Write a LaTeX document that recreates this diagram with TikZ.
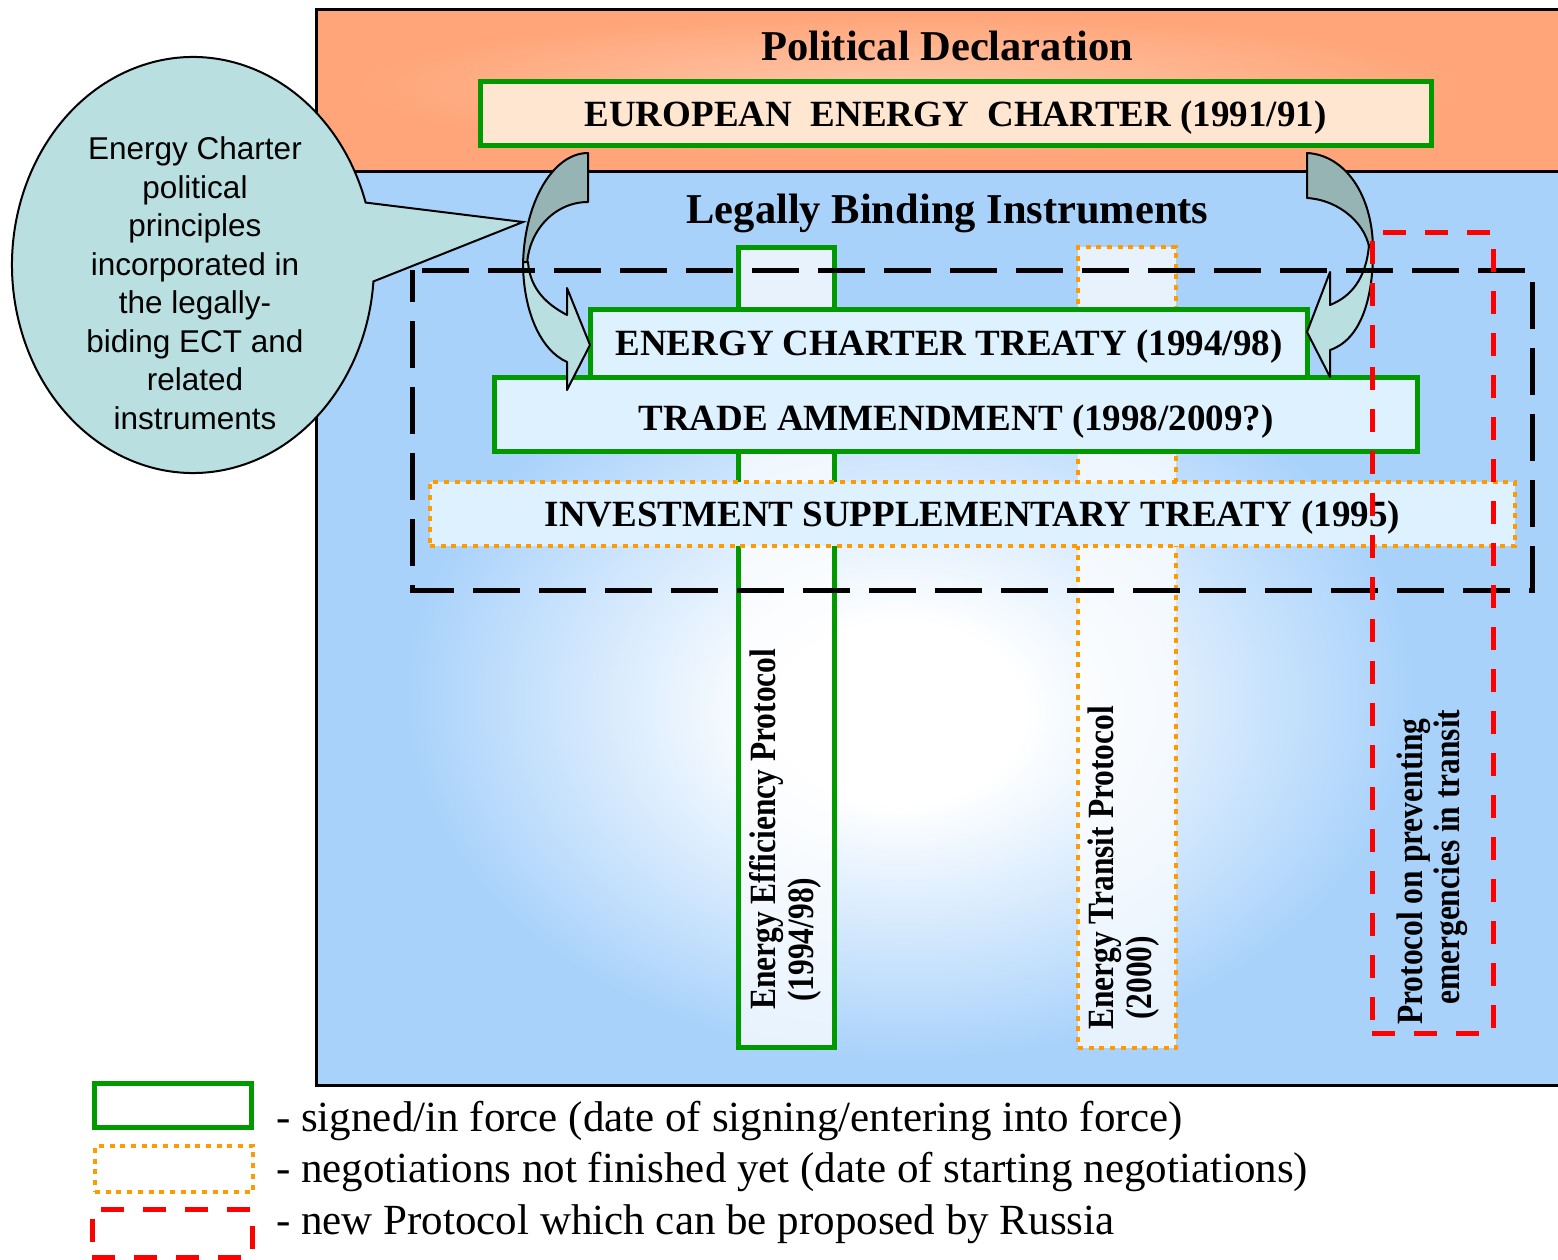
\documentclass[tikz,border=0pt]{standalone}
\usepackage{fontspec}
\setmainfont{Liberation Serif}
\newfontfamily\arialf{Liberation Sans}
\newfontfamily\vserif[FakeStretch=0.85]{Liberation Serif}
\usetikzlibrary{shapes.callouts}
\definecolor{bgblue}{HTML}{A9D2FB}
\definecolor{bgorange}{HTML}{FFA579}
\definecolor{orlight}{HTML}{FFC6A8}
\definecolor{gboxc}{HTML}{009900}
\definecolor{dotor}{HTML}{FF9A00}
\definecolor{boxfill}{HTML}{DDF1FE}
\definecolor{eecfill}{HTML}{FFE6D0}
\definecolor{callfill}{HTML}{B9DFE0}
\definecolor{arrdark}{HTML}{97B4B4}
\definecolor{arrlight}{HTML}{B9DFE0}
\pgfdeclareradialshading{blueshade}{\pgfpoint{-2bp}{-5bp}}{color(0bp)=(white); color(5bp)=(white); color(20bp)=(bgblue); color(70bp)=(bgblue)}
\pgfdeclareradialshading{orangeshade}{\pgfpoint{-2bp}{2bp}}{color(0bp)=(orlight); color(22bp)=(bgorange); color(70bp)=(bgorange)}
\begin{document}
\begin{tikzpicture}[x=1pt,y=-1pt,
  greenbox/.style={draw=gboxc, line width=5pt, fill=boxfill},
  dotbox/.style={draw=dotor, line width=4.5pt, dash pattern=on 5pt off 5.7pt, fill=boxfill},
  reddash/.style={draw=red, line width=5pt, dash pattern=on 23pt off 19pt},
  blackdash/.style={draw=black, line width=5pt, dash pattern=on 47pt off 19pt, dash phase=56pt},
  boxtext/.style={font=\fontsize{37}{40}\selectfont\bfseries, inner sep=0, text height=24.5pt, text depth=0pt},
  vtext/.style={font=\vserif\bfseries\fontsize{37}{38}\selectfont, rotate=90, anchor=west, inner sep=0},
  arrowpart/.style={draw=black, line width=2pt, line join=round},
  legtext/.style={font=\fontsize{43}{46}\selectfont, anchor=west, inner sep=0}]
\clip (0,0) rectangle (1558,1260);
% backgrounds
\shade[shading=orangeshade] (316,10) rectangle (1575,172);
\shade[shading=blueshade] (316,172) rectangle (1575,1085);
\draw[line width=3pt] (1575,10) -- (316,10) -- (316,1085) -- (1575,1085);
\draw[line width=3pt] (316,172) -- (1575,172);
% vertical protocol boxes
\node[greenbox, fill=white, fill opacity=0.72, minimum width=96, minimum height=800] (eep) at (786.5,647.5) {};
\node[dotbox, fill=white, fill opacity=0.72, minimum width=98, minimum height=801] (etp) at (1127,647.5) {};
% horizontal boxes
\node[greenbox, fill=eecfill, minimum width=951, minimum height=64, boxtext] (eec) at (955.5,114) {EUROPEAN\ \ ENERGY\ \ CHARTER (1991/91)};
\node[greenbox, minimum width=717, minimum height=67.5, boxtext] (ect) at (949,343.25) {ENERGY CHARTER TREATY (1994/98)};
\node[greenbox, minimum width=923, minimum height=74.5, boxtext, text height=33pt] (trade) at (956,414.25) {TRADE AMMENDMENT (1998/2009?)};
\node[dotbox, minimum width=1085, minimum height=64, boxtext] (ist) at (972.5,514) {INVESTMENT SUPPLEMENTARY TREATY (1995)};
% callout
\node[ellipse callout, draw=black, line width=2pt, fill=callfill, minimum width=362, minimum height=416, inner sep=0, callout absolute pointer={(523,222)}, callout pointer arc=22] (call) at (193,265) {};
\node[font=\arialf\fontsize{31.5}{38.5}\selectfont, align=center, inner sep=0] (calltxt) at (195,283) {Energy Charter\\political\\principles\\incorporated in\\the legally-\\biding ECT and\\related\\instruments};
% curved arrows
\draw[arrowpart, fill=arrdark] (588,153) .. controls (552,153) and (523,205) .. (523,268) -- (527,268) .. controls (527,232) and (554,202) .. (588,202) -- cycle;
\draw[arrowpart, fill=arrlight] (523,262) .. controls (523,310) and (540,350) .. (567,362) -- (567,390) -- (590,345) -- (567,288) -- (567,315) .. controls (548,305) and (530,290) .. (528,262) -- cycle;
\draw[arrowpart, fill=arrdark] (1307,153) -- (1307,198) .. controls (1340,200) and (1368,225) .. (1370,253) -- (1373,250) .. controls (1373,195) and (1345,155) .. (1307,153) -- cycle;
\draw[arrowpart, fill=arrlight] (1373,245) .. controls (1374,300) and (1360,340) .. (1330,350) -- (1330,377) -- (1307,332) -- (1330,272) -- (1330,305) .. controls (1350,297) and (1366,280) .. (1369,245) -- cycle;
% black dashed frame
\draw[blackdash] (412,270) -- (1532,270) -- (1532,590) -- (412,590) -- cycle;
% titles
\node[font=\fontsize{42.5}{46}\selectfont\bfseries, inner sep=0] (pd) at (947,46) {Political Declaration};
\node[font=\fontsize{42.5}{46}\selectfont\bfseries, inner sep=0] (lbi) at (947.5,213) {Legally Binding Instruments};
% vertical texts
\node[vtext] (eep1) at (767,1010) {Energy Efficiency Protocol};
\node[vtext] (eep2) at (805,1002) {(1994/98)};
\node[vtext] (etp1) at (1105,1030) {Energy Transit Protocol};
\node[vtext] (etp2) at (1143,1020) {(2000)};
\node[vtext] (pep1) at (1414,1025) {Protocol on preventing};
\node[vtext] (pep2) at (1451,1005) {emergencies in transit};
% red dashed box
\node[reddash, minimum width=121, minimum height=800] (pep) at (1432.5,633) {};
% legend
\node[draw=gboxc, line width=5pt, minimum width=157, minimum height=44] (lg1) at (173,1105.5) {};
\node[draw=dotor, line width=4.5pt, dash pattern=on 5pt off 5.7pt, minimum width=158, minimum height=46] (lg2) at (174,1169) {};
\node[reddash, minimum width=160, minimum height=48] (lg3) at (172,1233) {};
\node[legtext] (lt1) at (276,1121) {- signed/in force (date of signing/entering into force)};
\node[legtext] (lt2) at (276,1172) {- negotiations not finished yet (date of starting negotiations)};
\node[legtext] (lt3) at (276,1224) {- new Protocol which can be proposed by Russia};
\end{tikzpicture}
\end{document}
